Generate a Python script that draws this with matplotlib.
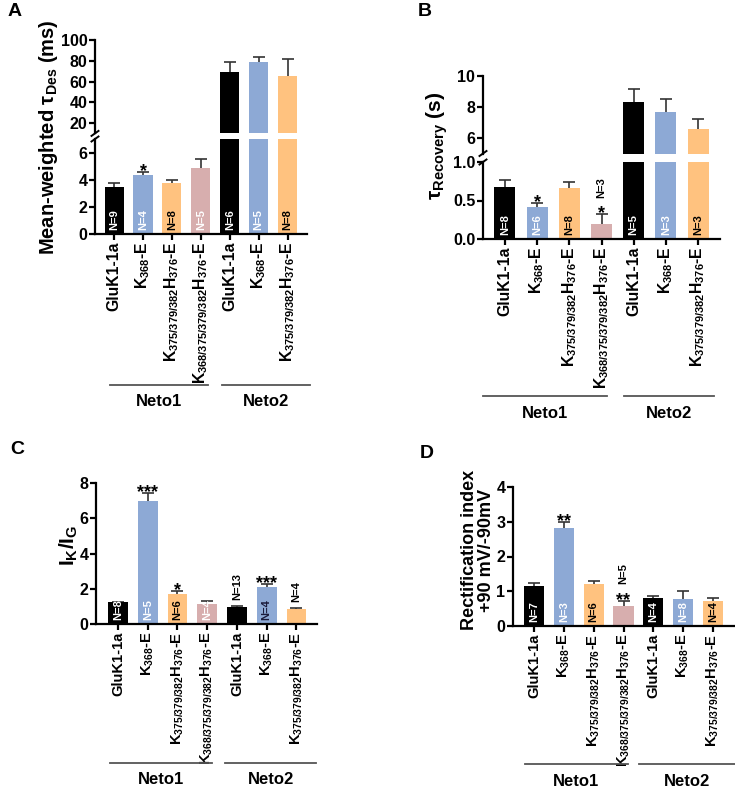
import numpy as np
import matplotlib
matplotlib.use("Agg")
import matplotlib.pyplot as plt
from matplotlib.lines import Line2D
from matplotlib.transforms import blended_transform_factory, ScaledTranslation

plt.rcParams["font.family"] = ["Liberation Sans", "DejaVu Sans"]
plt.rcParams["font.weight"] = "bold"
plt.rcParams["mathtext.fontset"] = "custom"
plt.rcParams["mathtext.rm"] = "Liberation Sans"
plt.rcParams["mathtext.it"] = "Liberation Sans:italic"
plt.rcParams["mathtext.bf"] = "Liberation Sans:bold"
plt.rcParams["axes.linewidth"] = 1.6

# --- data ---
constructs = ["GluK1-1a", r"K$_{\mathrm{368}}$-E",
              r"K$_{\mathrm{375/379/382}}$H$_{\mathrm{376}}$-E",
              r"K$_{\mathrm{368/375/379/382}}$H$_{\mathrm{376}}$-E",
              "GluK1-1a", r"K$_{\mathrm{368}}$-E",
              r"K$_{\mathrm{375/379/382}}$H$_{\mathrm{376}}$-E"]
groups = ["Neto1", "Neto2"]

A_mean = [3.5, 4.35, 3.75, 4.85, 69, 79, 65]
A_sem = [0.25, 0.25, 0.2, 0.65, 10, 4.5, 17]
A_n = [9, 4, 8, 5, 6, 5, 8]
A_stars = ["", "*", "", "", "", "", ""]

B_mean = [0.68, 0.42, 0.66, 0.2, 8.3, 7.65, 6.6]
B_sem = [0.08, 0.05, 0.08, 0.12, 0.85, 0.85, 0.6]
B_n = [8, 6, 8, 3, 5, 3, 3]
B_stars = ["", "*", "", "*", "", "", ""]

C_mean = [1.22, 7.0, 1.7, 1.13, 0.98, 2.1, 0.85]
C_sem = [0.04, 0.45, 0.15, 0.2, 0.05, 0.15, 0.07]
C_n = [8, 5, 6, 4, 13, 4, 4]
C_stars = ["", "***", "*", "", "", "***", ""]

D_mean = [1.15, 2.83, 1.22, 0.58, 0.8, 0.77, 0.72]
D_sem = [0.1, 0.17, 0.07, 0.14, 0.05, 0.25, 0.08]
D_n = [7, 3, 6, 5, 4, 8, 4]
D_stars = ["", "**", "", "**", "", "", ""]

# --- style ---
BLACK, BLUE, ORANGE, PINK = "#000000", "#8DA9D5", "#FFC27F", "#D7AEAE"
bar_colors = [BLACK, BLUE, ORANGE, PINK, BLACK, BLUE, ORANGE]
n_colors = ["white", "white", "black", "white", "white", "white", "black"]

W, H = 735, 788
fig = plt.figure(figsize=(W / 100, H / 100), dpi=100)


def px_axes(x0, y0, x1, y1):
    return fig.add_axes([x0 / W, 1 - y1 / H, (x1 - x0) / W, (y1 - y0) / H])


def style(ax, xticks=True, xsize=11):
    ax.spines["top"].set_visible(False)
    ax.spines["right"].set_visible(False)
    ax.tick_params(axis="both", labelsize=11.5, width=1.6, length=4, pad=1.5)
    if xticks:
        ax.set_xticks(range(len(constructs)))
        ax.set_xticklabels(constructs, rotation=90, fontsize=xsize, fontweight="bold")
    else:
        ax.spines["bottom"].set_visible(False)
        ax.set_xticks([])


def bars(ax, mean, sem, width, xlim):
    x = np.arange(len(mean))
    ax.bar(x, mean, width=width, color=bar_colors, zorder=2)
    ax.errorbar(x, mean, yerr=sem, fmt="none", ecolor="#333333",
                elinewidth=1.2, capsize=4, capthick=1.2, zorder=1)
    ax.set_xlim(*xlim)


def labels(ax, mean, sem, n, stars, above=(), ncol=None):
    ncol = ncol or n_colors
    for i in range(len(mean)):
        top = mean[i] + sem[i]
        if stars[i]:
            ax.annotate(stars[i], (i, top), xytext=(0, -3), textcoords="offset points",
                        ha="center", va="baseline", fontsize=13, fontweight="bold")
        if i in above:
            off = 12 if stars[i] else 4
            ax.annotate(f"N={n[i]}", (i, top), xytext=(0, off), textcoords="offset points",
                        ha="center", va="bottom", rotation=90, fontsize=8, fontweight="bold")
        else:
            ax.annotate(f"N={n[i]}", (i, 0), xytext=(0, 3), textcoords="offset points",
                        ha="center", va="bottom", rotation=90, fontsize=8,
                        fontweight="bold", color=ncol[i])


def break_mark(ax, y):
    tr = fig.dpi_scale_trans + ScaledTranslation(0, y, ax.transAxes)
    ax.add_line(Line2D([-0.035, 0.035], [-0.025, 0.025], transform=tr,
                       color="black", lw=1.4, clip_on=False))


def group_lines(ax, spans, y_line, y_text):
    tr = blended_transform_factory(ax.transData, fig.transFigure)
    for name, (a, b) in zip(groups, spans):
        ax.plot([a, b], [1 - y_line / H] * 2, color="#555555", lw=1.3,
                transform=tr, clip_on=False)
        ax.text((a + b) / 2, 1 - y_text / H, name, transform=tr, ha="center",
                va="center", fontsize=12, fontweight="bold")


# --- A ---
xl = (-0.66, 6.67)
a_lo = px_axes(95, 139, 307, 234)
a_hi = px_axes(95, 40, 307, 133.4)
for ax in (a_lo, a_hi):
    bars(ax, A_mean, A_sem, 0.66, xl)
a_lo.set_ylim(0, 7)
a_lo.set_yticks([0, 2, 4, 6])
a_hi.set_ylim(10, 100)
a_hi.set_yticks([20, 40, 60, 80, 100])
style(a_lo, xsize=11.3)
style(a_hi, xticks=False)
labels(a_lo, A_mean, A_sem, A_n, A_stars)
break_mark(a_hi, 0)
break_mark(a_lo, 1)
group_lines(a_lo, [(-0.14, 3.25), (3.74, 6.78)], 385, 402)
fig.text(48 / W, 1 - 137 / H, r"Mean-weighted $\mathrm{\tau}_{\mathrm{Des}}$ (ms)",
         rotation=90, ha="center", va="center", fontsize=14.5, fontweight="bold")
fig.text(8 / W, 1 - 12 / H, "A", ha="left", va="center", fontsize=14, fontweight="bold")

# --- B ---
xl = (-0.68, 6.68)
b_lo = px_axes(483, 162, 720, 239)
b_hi = px_axes(483, 76, 720, 153.5)
for ax in (b_lo, b_hi):
    bars(ax, B_mean, B_sem, 0.65, xl)
b_lo.set_ylim(0, 1)
b_lo.set_yticks([0, 0.5, 1.0])
b_lo.set_yticklabels(["0.0", "0.5", "1.0"])
b_hi.set_ylim(5, 10)
b_hi.set_yticks([6, 8, 10])
style(b_lo, xsize=11.3)
style(b_hi, xticks=False)
labels(b_lo, B_mean, B_sem, B_n, B_stars, above=(3,))
break_mark(b_hi, 0)
break_mark(b_lo, 1)
group_lines(b_lo, [(-0.68, 3.17), (3.70, 6.49)], 396, 414)
fig.text(437 / W, 1 - 146 / H, r"$\mathrm{\tau}_{\mathbf{Recovery}}$ (s)",
         rotation=90, ha="center", va="center", fontsize=15, fontweight="bold")
fig.text(418 / W, 1 - 12 / H, "B", ha="left", va="center", fontsize=14, fontweight="bold")

# --- C ---
c = px_axes(96, 483, 317, 624)
bars(c, C_mean, C_sem, 0.67, (-0.74, 6.69))
c.set_ylim(0, 8)
c.set_yticks([0, 2, 4, 6, 8])
style(c, xsize=10.6)
c_ncol = list(n_colors)
c_ncol[5] = "#1a1a3a"
labels(c, C_mean, C_sem, C_n, C_stars, above=(4, 6), ncol=c_ncol)
group_lines(c, [(-0.27, 3.16), (3.6, 6.66)], 763, 780)
fig.text(69 / W, 1 - 545 / H, r"I$_{\mathbf{K}}$/I$_{\mathbf{G}}$",
         rotation=90, ha="center", va="center", fontsize=15, fontweight="bold")
fig.text(10 / W, 1 - 450 / H, "C", ha="left", va="center", fontsize=14, fontweight="bold")

# --- D ---
d = px_axes(513, 487, 734, 626)
bars(d, D_mean, D_sem, 0.67, (-0.70, 6.7))
d.set_ylim(0, 4)
d.set_yticks([0, 1, 2, 3, 4])
style(d, xsize=10.6)
labels(d, D_mean, D_sem, D_n, D_stars, above=(3,))
group_lines(d, [(-0.3, 3.15), (3.52, 6.74)], 764, 782)
fig.text(478 / W, 1 - 550 / H, "Rectification index\n+90 mV/-90mV",
         rotation=90, ha="center", va="center", fontsize=13, fontweight="bold",
         linespacing=1.0)
fig.text(420 / W, 1 - 453 / H, "D", ha="left", va="center", fontsize=14, fontweight="bold")

fig.savefig("out.png", dpi=100)
